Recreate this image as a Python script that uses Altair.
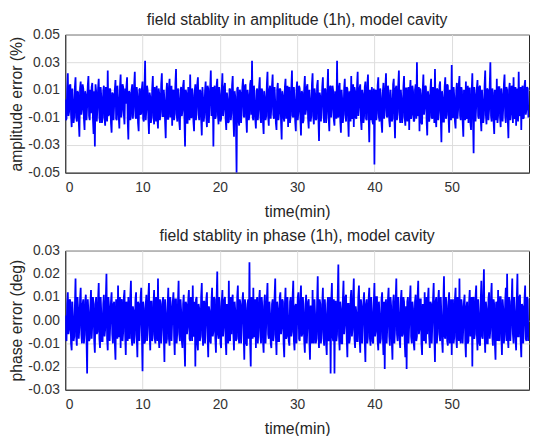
import altair as alt
import pandas as pd

# amplitude error in units of 0.001 %  (samples at t = i/6 min)
amplitude_milli = [
    3,-11,22,-6,14,-17,1,-9,19,-13,8,-24,16,-4,11,-19,6,-2,20,-12,-7,15,-22,-31,9,-3,18,-14,5,-10,
    13,-16,2,24,-8,10,-21,7,-1,17,-12,4,-18,21,-5,12,-15,0,19,-26,8,-9,14,-3,23,-11,6,-20,11,-7,
    16,-13,31,-4,9,-22,5,-10,20,-15,1,13,-18,7,-6,22,-9,3,-25,15,-11,18,-2,-16,10,-7,25,-13,4,-19,
    12,-5,17,-31,8,-14,2,21,-10,6,-20,14,-3,19,-12,9,-23,4,-8,16,-17,11,-1,24,-6,-31,13,-9,18,-15,
    7,-11,22,-4,15,-19,3,-13,10,-7,20,-24,5,-50,12,-16,8,-2,18,-10,14,-21,6,-8,17,31,-12,2,-18,11,
    -5,19,-14,9,-22,4,-9,23,-16,13,-3,21,-11,1,-19,15,-7,10,-26,6,-13,18,-1,-17,12,-8,24,-10,3,-20,
    16,-6,11,-23,8,-12,20,-4,14,-18,2,-9,22,-15,7,-11,17,-27,5,-2,19,-14,10,-7,25,-20,13,-3,9,-16,
    6,31,-10,15,-21,3,-8,18,-13,11,-24,4,20,-6,-17,9,-11,23,-2,14,-19,7,-9,16,-12,21,-28,1,12,-15,
    -44,10,-7,19,-13,5,-21,15,-4,22,-10,8,-17,2,-11,18,-25,13,-6,24,-14,3,-9,20,-16,11,-1,-19,17,-8,
    9,-12,14,30,-5,-20,7,-15,21,-3,12,-23,6,-9,18,-11,2,25,-17,10,-6,16,-28,4,-13,19,-8,13,-21,8,
    28,-10,5,-18,15,-4,20,-12,9,-24,3,16,-7,-14,11,-19,22,-36,6,-2,17,-11,13,-20,1,-8,24,-15,10,-5,
    30,-13,8,-22,4,18,-9,12,-17,6,-3,21,-14,10,-25,15,-7,2,19,-11,-16,9,23,-6,-19,13,-10,17,-4,11,
]
# amplitude error in units of 0.001 %  (samples at t = (i+0.5)/6 min)
amplitude_milli_mid = [
    -12,10,-9,13,-8,11,-14,12,-10,9,-13,11,-8,14,-11,9,-12,13,-9,10,12,-11,9,14,-13,11,-10,12,-14,9,
    -10,12,-13,-9,11,-14,8,-12,10,-11,13,-9,12,-10,14,-8,11,12,-13,9,-12,10,-11,13,-9,12,-14,10,-8,11,
    -11,9,-12,13,-10,8,-14,11,-9,12,-13,-10,11,-12,14,-9,10,-13,8,-11,12,-10,13,9,-12,14,-8,11,-13,10,
    -9,13,-11,10,-14,12,-12,-10,11,-13,9,-12,14,-8,10,-11,12,-13,9,-10,13,-14,11,-9,12,10,-11,13,-8,12,
    -13,10,-9,12,-11,8,-14,11,-12,13,-10,9,-13,11,-12,10,-14,12,-9,13,-11,10,-12,14,-8,-10,13,-11,9,-12,
    12,-10,11,-13,9,-12,14,-9,10,-11,13,-8,12,-14,10,-12,11,-13,9,-10,12,-11,13,10,-14,11,-9,12,-13,10,
    -12,13,-10,9,-14,11,-8,12,-11,10,-13,14,-9,11,-12,13,-10,8,-13,12,-9,11,-14,10,-11,12,-10,13,-12,9,
    -11,-9,12,-13,10,-14,11,-8,12,-10,9,-13,-11,14,12,-10,13,-9,11,-12,10,-14,12,-11,13,-8,10,-12,-13,11,
    9,-12,13,-10,11,-14,8,-11,12,-9,13,-12,10,-13,14,-9,11,-12,13,-8,10,-14,12,-10,11,-13,12,9,-11,13,
    -13,10,-11,-9,12,11,-14,10,-8,13,-12,9,-13,11,-10,12,-14,-9,11,-12,13,-10,9,-13,12,-11,14,-9,10,-12,
    -10,12,-13,9,-11,14,-9,12,-13,10,-12,-11,13,11,-14,9,-10,12,-13,11,-9,12,-11,10,-14,13,-8,11,-12,13,
    -9,11,-13,10,-12,-14,12,-10,11,-13,14,-9,12,-11,10,-12,13,-14,-10,12,11,-13,-9,12,10,-11,13,-8,12,-10,
]

# phase error in units of 0.001 deg  (samples at t = i/6 min)
phase_milli = [
    2,-9,12,-4,8,-13,1,-7,18,-11,5,-3,14,-10,9,-6,11,-23,4,-8,13,-2,7,-14,10,-5,16,-12,3,-9,
    11,-4,20,-13,6,-1,12,-10,8,-17,3,15,-7,-12,9,-5,13,-15,2,10,-8,17,-11,4,-6,12,-16,7,-2,14,
    -22,5,-9,11,-3,16,-13,8,-6,13,-10,1,18,-12,7,-4,10,-18,3,-8,14,-11,6,-1,12,-15,9,-5,17,-9,
    4,-12,11,-20,7,-3,13,-9,2,15,-6,-20,10,-13,5,-7,16,-11,8,-2,12,-16,4,-10,14,-5,9,-14,21,-8,
    6,-12,13,-3,10,-15,2,17,-9,-6,11,-13,4,-8,15,-10,7,-1,12,-17,5,-11,9,25,-20,3,14,-7,-12,10,
    -4,13,-10,6,-14,11,-2,16,-8,3,-12,9,-6,18,-15,5,-9,12,-3,8,-16,14,-7,1,-11,10,-5,17,-13,7,
    -1,12,-9,15,-6,4,-14,11,-3,9,-17,6,13,-10,2,-8,19,-12,7,-5,14,-11,3,-15,10,-4,-23,16,-9,-23,
    8,-6,24,-13,5,-10,17,-2,11,-16,7,-8,13,-4,18,-12,3,-9,15,-14,6,-1,12,-18,9,-7,14,-11,4,-10,
    16,-5,10,-13,2,-8,12,-15,-21,9,-3,14,-11,6,-17,11,-4,18,-9,3,-12,13,-6,8,-16,-21,10,-2,15,-10,
    5,-13,11,-7,17,-4,9,-15,3,12,-10,-6,14,-12,7,-1,16,-18,10,-5,13,-9,2,-14,19,-8,6,-11,12,-3,
    -15,9,-7,14,-12,4,18,-10,6,-3,11,-16,8,-9,13,-2,-20,10,-6,15,-13,3,-11,17,-8,22,-14,5,-10,12,
    -4,16,-11,7,-17,2,13,-9,10,-15,5,-6,14,20,-12,8,-3,18,-10,4,-13,20,-7,11,-16,6,-2,15,-9,9,
]
# phase error in units of 0.001 deg  (samples at t = (i+0.5)/6 min)
phase_milli_mid = [
    -8,7,-6,9,-10,8,-9,6,-7,10,-8,9,-6,7,-10,8,-7,9,-9,6,-8,10,-9,7,-6,9,-8,10,-9,7,
    -7,9,-8,10,-9,8,-6,7,-10,9,-8,-7,10,8,-9,10,-6,8,-9,-7,10,-8,6,-10,9,-7,8,-9,10,-6,
    8,-10,7,-9,10,-6,8,-9,7,-8,10,-9,-7,9,-10,8,-6,9,-10,7,-8,10,-9,8,-7,9,-10,8,-6,9,
    -9,7,-10,8,-6,9,-8,10,-9,-7,8,9,-10,7,-9,10,-6,8,-10,9,-7,6,-9,8,-7,10,-8,9,-6,10,
    -10,8,-7,9,-9,7,-10,-8,10,9,-6,8,-9,10,-7,9,-10,8,-6,9,-10,7,-8,-9,10,-8,-7,9,8,-10,
    9,-7,10,-9,8,-10,9,-6,8,-10,7,-9,10,-7,8,-9,10,-6,9,-10,7,-8,10,-9,8,-7,10,-9,6,-10,
    10,-8,9,-7,10,-9,7,-10,8,-9,6,-10,-8,9,-10,8,-6,9,-10,7,-8,9,-10,7,-9,10,8,-7,9,8,
    -9,10,-7,8,-10,9,-6,10,-8,7,-10,9,-7,10,-8,6,-9,10,-7,9,-10,8,-9,7,-10,9,-8,10,-9,7,
    -7,10,-9,8,-10,9,-6,8,7,-10,9,-7,10,-9,8,-10,9,-6,10,-8,9,-7,10,-9,6,8,-10,9,-7,8,
    -10,8,-9,10,-6,9,-10,7,-9,-8,10,9,-7,8,-10,9,-7,8,-10,9,-6,10,-9,8,-7,10,-9,8,-10,9,
    7,-10,9,-8,10,-9,-7,9,-10,8,-9,6,-10,8,-7,10,9,-8,10,-6,9,-10,8,-7,10,-6,8,-10,9,-8,
    10,-7,9,-10,8,-9,-8,10,-7,9,-10,8,-9,-7,10,-9,8,-6,10,-8,9,-7,10,-9,7,-10,9,-8,10,-9,
]

amp_ticks = [0.05, 0.03, 0.01, -0.01, -0.03, -0.05]
phase_ticks = [0.03, 0.02, 0.01, 0.0, -0.01, -0.02, -0.03]
time_ticks = [0, 10, 20, 30, 40, 50]


def series(main, mid):
    rows = [(i / 6, v / 1000) for i, v in enumerate(main)]
    rows += [((i + 0.5) / 6, v / 1000) for i, v in enumerate(mid)]
    rows.sort()
    return pd.DataFrame(rows, columns=["t", "v"])


amp_df = series(amplitude_milli, amplitude_milli_mid)
ph_df = series(phase_milli, phase_milli_mid)

FONT = "Liberation Sans"
fix_minus = "replace(datum.label, '\u2212', '-')"


def panel(df, title, ytitle, ydom, yticks):
    return alt.Chart(df, title=alt.TitleParams(title, fontSize=16, fontWeight="normal",
                                                color="#262626", font=FONT, offset=0)).mark_line(
        color="#0000ff", strokeWidth=1.8, clip=True
    ).encode(
        x=alt.X("t:Q", scale=alt.Scale(domain=[0, 60], nice=False, zero=False),
                axis=alt.Axis(values=time_ticks, title="time(min)", format="d",
                              labelPadding=8, titlePadding=9)),
        y=alt.Y("v:Q", scale=alt.Scale(domain=ydom, nice=False, zero=False),
                axis=alt.Axis(values=yticks, title=ytitle, format=".2f", labelExpr=fix_minus,
                              labelPadding=6, titlePadding=3)),
    ).properties(width=470, height=140)


top = panel(amp_df, "field stablity in amplitude (1h), model cavity",
            "amplitude error (%)", [-0.05, 0.05], amp_ticks)
bottom = panel(ph_df, "field stablity in phase (1h), model cavity",
               "phase error (deg)", [-0.03, 0.03], phase_ticks).properties(height=141)

chart = alt.vconcat(top, bottom, spacing=7).properties(
    padding={"left": 0, "top": 0, "right": 0, "bottom": 0}
).configure_view(
    stroke="#262626", strokeWidth=1
).configure_axis(
    labelFont=FONT, titleFont=FONT, labelFontSize=14, titleFontSize=16,
    labelColor="#333333", titleColor="#262626", titleFontWeight="normal",
    gridColor="#dcdcdc", gridWidth=1, domainColor="#262626", ticks=False,
)

chart.save("out.html", embed_options={"renderer": "svg", "actions": False})
